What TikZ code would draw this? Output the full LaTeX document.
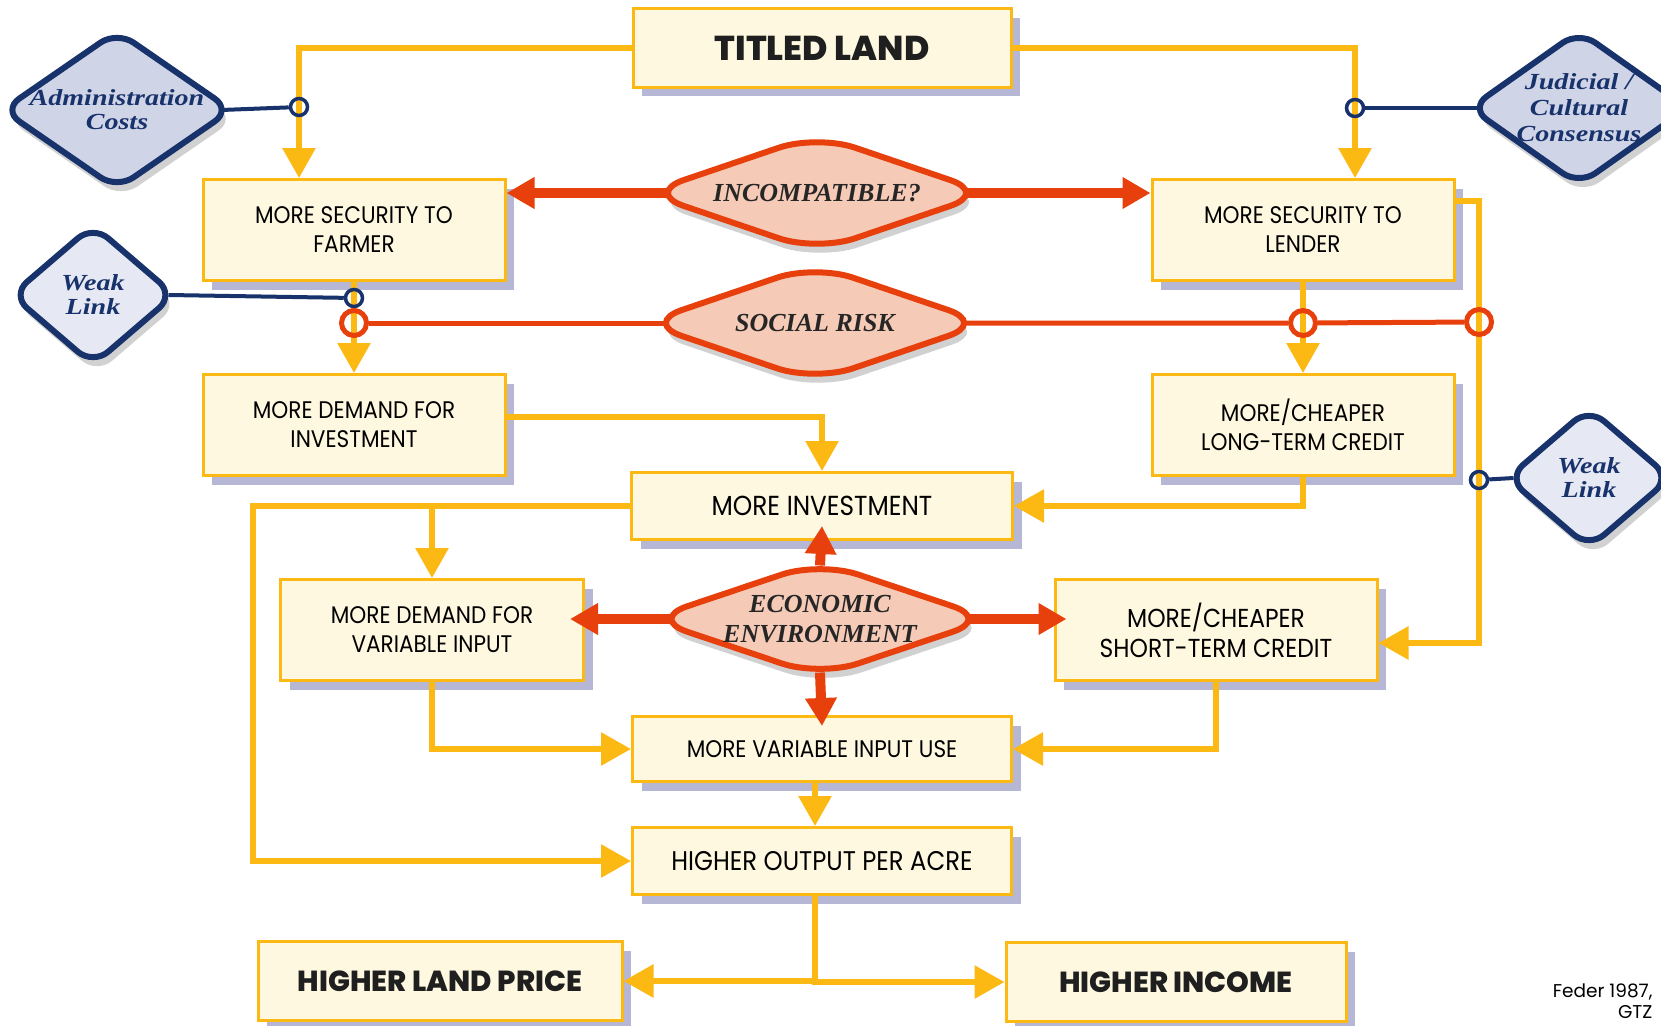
\documentclass[tikz,border=0pt]{standalone}
\usepackage{fontspec}
\setmainfont{Poppins}
\newfontfamily\boxfont[FakeStretch=0.9]{Poppins}
\IfFontExistsTF{Poppins ExtraBold}
  {\newfontfamily\titlefont{Poppins ExtraBold}\newcommand\titleweight{}}
  {\newfontfamily\titlefont{Poppins}\newcommand\titleweight{\bfseries}}
\newfontfamily\riskfont{Liberation Serif}
\newfontfamily\navyfont[FakeStretch=1.22]{Liberation Serif}
\usetikzlibrary{arrows.meta,positioning,shapes.geometric,shadows}

\definecolor{gold}{HTML}{FDB913}
\definecolor{cream}{HTML}{FEF8E0}
\definecolor{lav}{HTML}{B5B7D5}
\definecolor{riskred}{HTML}{E8400C}
\definecolor{salmon}{HTML}{F5CAB7}
\definecolor{navy}{HTML}{18326B}
\definecolor{paleblue}{HTML}{D0D4E7}
\definecolor{paleblue2}{HTML}{E6E9F3}

\begin{document}
\begin{tikzpicture}[
  x=1pt, y=-1pt,
  box/.style={draw=gold, line width=3pt, fill=cream, align=center, inner sep=0pt,
              text=black, font=\boxfont\fontsize{24}{29}\selectfont,
              drop shadow={shadow xshift=9pt, shadow yshift=-9pt, fill=lav, opacity=1}},
  bigbox/.style={font=\titlefont\titleweight\fontsize{29}{34}\selectfont, text=black!88},
  riskdiam/.style={diamond, draw=riskred, line width=6pt, fill=salmon, rounded corners=40pt,
              inner sep=0pt, minimum width=345pt, minimum height=119pt,
              drop shadow={shadow xshift=3pt, shadow yshift=-9pt, fill=black, opacity=.18}},
  risktext/.style={align=center, text=black!85, font=\riskfont\bfseries\itshape\fontsize{26}{30}\selectfont},
  linkdiam/.style={diamond, draw=navy, line width=6pt, fill=paleblue2, rounded corners=20pt,
              inner sep=0pt, minimum width=165pt, minimum height=142pt,
              drop shadow={shadow xshift=4pt, shadow yshift=-9pt, fill=black, opacity=.18}},
  linktext/.style={align=center, text=navy, font=\navyfont\bfseries\itshape\fontsize{23}{24}\selectfont},
  yarr/.style={draw=gold, line width=6pt, -{Triangle[width=32pt,length=30pt]}},
  rarr/.style={draw=riskred, line width=10pt, -{Triangle[width=30pt,length=28pt]}},
  rline/.style={draw=riskred, line width=5pt},
  nline/.style={draw=navy, line width=4pt},
  ndot/.style={circle, draw=navy, line width=3.5pt, minimum size=17pt, inner sep=0pt},
  rdot/.style={circle, draw=riskred, line width=5pt, minimum size=25pt, inner sep=0pt}
]
\path[use as bounding box, fill=white] (0,0) rectangle (1661,1025);

% boxes
\node[box, bigbox, minimum width=378, minimum height=78, font=\titlefont\titleweight\fontsize{34.5}{40}\selectfont] (titled) at (822,48) {TITLED LAND};
\node[box, minimum width=302, minimum height=101] (farmer) at (354,230) {MORE SECURITY TO\\FARMER};
\node[box, minimum width=302, minimum height=101] (lender) at (1303,230) {MORE SECURITY TO\\LENDER};
\node[box, minimum width=302, minimum height=101] (dinv) at (354,425) {MORE DEMAND FOR\\INVESTMENT};
\node[box, minimum width=302, minimum height=101] (ltc) at (1303,425) {MORE/CHEAPER\\LONG-TERM CREDIT};
\node[box, minimum width=381, minimum height=67, font=\boxfont\fontsize{27.5}{32}\selectfont] (invest) at (822,506) {MORE INVESTMENT};
\node[box, minimum width=303, minimum height=101] (dvi) at (432,630) {MORE DEMAND FOR\\VARIABLE INPUT};
\node[box, minimum width=322, minimum height=101, font=\boxfont\fontsize{26}{30}\selectfont] (stc) at (1216,630) {MORE/CHEAPER\\SHORT-TERM CREDIT};
\node[box, minimum width=379, minimum height=65, font=\boxfont\fontsize{24}{28}\selectfont] (viu) at (822,749) {MORE VARIABLE INPUT USE};
\node[box, minimum width=379, minimum height=67, font=\boxfont\fontsize{27}{31}\selectfont] (output) at (822,861) {HIGHER OUTPUT PER ACRE};
\node[box, bigbox, minimum width=364, minimum height=79] (price) at (440,981) {HIGHER LAND PRICE};
\node[box, bigbox, minimum width=340, minimum height=79] (income) at (1176,982) {HIGHER INCOME};

% diamonds
\node[riskdiam, label={[risktext]center:INCOMPATIBLE?}] (incomp) at (817,193) {};
\node[riskdiam, label={[risktext]center:SOCIAL RISK}] (social) at (815,323) {};
\node[riskdiam, minimum width=344, minimum height=117, label={[risktext]center:ECONOMIC\\ENVIRONMENT}] (econ) at (820,619) {};
\node[linkdiam, fill=paleblue, minimum width=231, minimum height=160, label={[linktext]center:Administration\\Costs}] (admin) at (117,110) {};
\node[linkdiam, fill=paleblue, minimum width=220, minimum height=156, label={[linktext, font=\navyfont\bfseries\itshape\fontsize{23}{26}\selectfont]center:Judicial /\\Cultural\\Consensus}] (judicial) at (1579,108) {};
\node[linkdiam, label={[linktext]center:Weak\\Link}] (weakl) at (93,295) {};
\node[linkdiam, label={[linktext]center:Weak\\Link}] (weakr) at (1589,478) {};

\node[anchor=north east, align=right, font=\fontsize{18.5}{21}\selectfont] (source) at (1656,980) {Feder 1987,\\GTZ};

% joints
\coordinate (adminjoint) at (299,107);
\coordinate (judjoint) at (1355,108);
\coordinate (weakljoint) at (354,298);
\coordinate (farmjoint) at (354,323);
\coordinate (lendjoint) at (1303,323);
\coordinate (edgejoint) at (1479,322);
\coordinate (weakrjoint) at (1479,480);
\coordinate (leftrail) at (253,861);

% yellow flow
\draw[yarr] (titled.west) -| (adminjoint |- farmer.north);
\draw[yarr] (titled.east) -| (judjoint |- lender.north);
\draw[yarr] (farmer.south) -- (dinv.north);
\draw[yarr] (lender.south) -- (ltc.north);
\draw[yarr] ([yshift=-23pt]lender.north east) -| (edgejoint) |- ([yshift=-13pt]stc.east);
\draw[yarr] ([yshift=8pt]dinv.east) -| (invest.north);
\draw[yarr] (ltc.south) |- (invest.east);
\draw[yarr] (invest.west) -| (leftrail) -- (output.west);
\draw[yarr] (dvi.north |- invest.west) -- (dvi.north);
\draw[yarr] (dvi.south) |- (viu.west);
\draw[yarr] (stc.south) |- (viu.east);
\draw[yarr] ([xshift=-7pt]viu.south) -- ([xshift=-7pt]output.north);
\draw[yarr] ([xshift=-7pt]output.south) |- (price.east);
\draw[yarr] ([xshift=-7pt]output.south) |- (income.west);

% red arrows
\draw[rarr] ([xshift=25pt]incomp.west) -- (incomp.west -| farmer.east);
\draw[rarr] ([xshift=-25pt]incomp.east) -- (incomp.east -| lender.west);
\draw[rarr] ([yshift=-8pt]econ.north) -- ([yshift=15pt]invest.south);
\draw[rarr] ([yshift=8pt]econ.south) -- ([yshift=-11pt]viu.north);
\draw[rarr] ([xshift=25pt]econ.west) -- ([xshift=-15pt]econ.west -| dvi.east);
\draw[rarr] ([xshift=-25pt]econ.east) -- ([xshift=13pt]econ.east -| stc.west);

% rings
\node[ndot] (adminring) at (adminjoint) {};
\node[ndot] (judring) at (judjoint) {};
\node[ndot] (weaklring) at (weakljoint) {};
\node[ndot] (weakrring) at (weakrjoint) {};
\node[rdot] (farmring) at (farmjoint) {};
\node[rdot] (lendring) at (lendjoint) {};
\node[rdot] (edgering) at (edgejoint) {};

\draw[nline] ([xshift=-14pt]admin.east) -- (adminring);
\draw[nline] ([xshift=14pt]judicial.west) -- (judring);
\draw[nline] ([xshift=-10pt]weakl.east) -- (weaklring);
\draw[nline] ([xshift=10pt]weakr.west) -- (weakrring);
\draw[rline] (farmring) -- ([xshift=25pt]social.west);
\draw[rline] ([xshift=-25pt]social.east) -- (lendring) -- (edgering);
\end{tikzpicture}
\end{document}
